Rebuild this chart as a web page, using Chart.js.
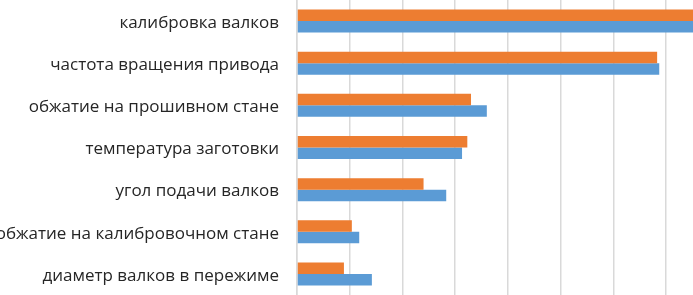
<!DOCTYPE html>
<html>
<head>
<meta charset="utf-8">
<script src="https://cdn.jsdelivr.net/npm/chart.js@4.4.0/dist/chart.umd.min.js"></script>
<style>
  html, body { margin: 0; padding: 0; background: #fff; overflow: hidden; }
  #wrap { position: relative; width: 693px; height: 295px; }
</style>
</head>
<body>
<div id="wrap"><canvas id="chart"></canvas></div>
<script>
// категории (сверху вниз)
const categories = [
  'калибровка валков',
  'частота вращения привода',
  'обжатие на прошивном стане',
  'температура заготовки',
  'угол подачи валков',
  'обжатие на калибровочном стане',
  'диаметр валков в пережиме'
];
// значения в делениях сетки, правый край обрезан
const orangeValues = [8.2, 6.83, 3.30, 3.23, 2.40, 1.04, 0.89];
const blueValues   = [8.3, 6.87, 3.60, 3.13, 2.83, 1.18, 1.42];
const gridSteps = [0, 1, 2, 3, 4, 5, 6, 7];

const ctx = document.getElementById('chart').getContext('2d');
const chart = new Chart(ctx, {
  type: 'bar',
  data: {
    labels: categories,
    datasets: [
      {
        data: orangeValues,
        backgroundColor: '#ED7D31',
        categoryPercentage: 0.545,
        barPercentage: 1
      },
      {
        data: blueValues,
        backgroundColor: '#5B9BD5',
        categoryPercentage: 0.545,
        barPercentage: 1
      }
    ]
  },
  options: {
    indexAxis: 'y',
    responsive: true,
    maintainAspectRatio: false,
    animation: { duration: 0 },
    layout: { padding: 0 },
    plugins: {
      legend: { display: false },
      tooltip: { enabled: false }
    },
    scales: {
      x: {
        min: 0,
        max: 7.51,
        afterBuildTicks: function(scale) {
          scale.ticks = gridSteps.map(v => ({ value: v }));
        },
        afterFit: function(scale) {
          scale.height = 0;
          scale.paddingLeft = 0;
          scale.paddingRight = 0;
        },
        ticks: { display: false },
        grid: { color: '#d9d9d9', lineWidth: 1.5, drawTicks: false },
        border: { display: false }
      },
      y: {
        afterFit: function(scale) {
          scale.width = 297;
          scale.paddingTop = 0;
          scale.paddingBottom = 0;
        },
        ticks: {
          color: '#262626',
          padding: 18,
          labelOffset: 2,
          font: { family: 'Open Sans', size: 17 }
        },
        grid: { display: false, drawTicks: false },
        border: { display: true, color: '#d9d9d9', width: 1.5 }
      }
    }
  }
});
</script>
</body>
</html>
